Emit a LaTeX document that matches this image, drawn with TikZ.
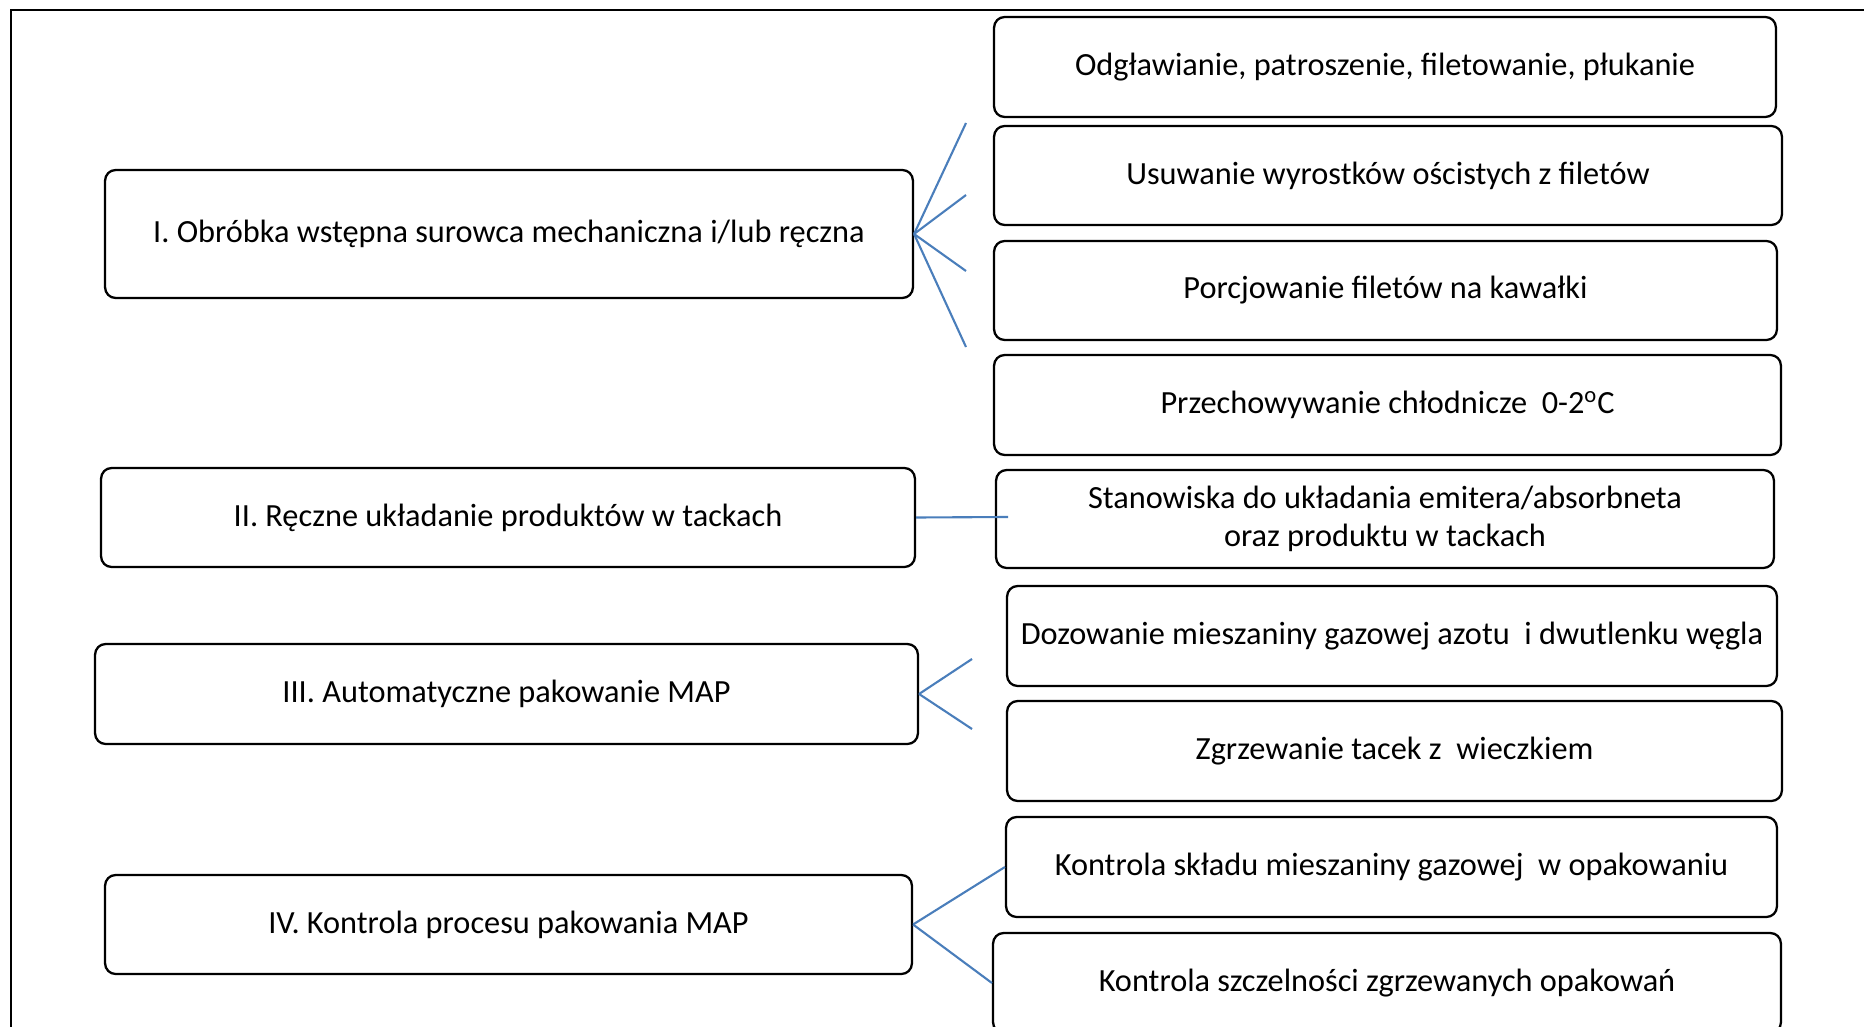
\documentclass[tikz,border=0pt]{standalone}
\usepackage{fontspec}
\setmainfont{Carlito}
\usetikzlibrary{positioning}

\definecolor{linkblue}{HTML}{4A7EBB}

\begin{document}
\begin{tikzpicture}[x=0.02cm,y=-0.02cm]
        \tikzstyle{pnode} = [line width=1.3pt, draw=black, rectangle, rounded corners = 6pt, align=center, inner sep = 2pt, font=\fontsize{18.4}{21.5}\selectfont]
        \tikzstyle{link} = [line width=1.2pt, draw=linkblue]

        \useasboundingbox (0,0) rectangle (1864,1027);
        \clip (0,0) rectangle (1864,1027);
        \draw[line width=0.8pt] (11,1040) -- (11,10) -- (1870,10);

        % etapy
        \node[pnode, minimum width=16.16cm, minimum height=2.56cm] (s1) at (509,234) {I. Obróbka wstępna surowca mechaniczna i/lub ręczna};
        \node[pnode, minimum width=16.28cm, minimum height=1.98cm] (s2) at (508,517.5) {II. Ręczne układanie produktów w tackach};
        \node[pnode, minimum width=16.46cm, minimum height=2.0cm] (s3) at (506.5,694) {III. Automatyczne pakowanie MAP};
        \node[pnode, minimum width=16.14cm, minimum height=1.98cm] (s4) at (508.5,924.5) {IV. Kontrola procesu pakowania MAP};

        % operacje
        \node[pnode, minimum width=15.64cm, minimum height=2.0cm] (o1) at (1385,67) {Odgławianie, patroszenie, filetowanie, płukanie};
        \node[pnode, minimum width=15.76cm, minimum height=1.98cm] (o2) at (1388,175.5) {Usuwanie wyrostków ościstych z filetów};
        \node[pnode, minimum width=15.66cm, minimum height=1.98cm] (o3) at (1385.5,290.5) {Porcjowanie filetów na kawałki};
        \node[pnode, minimum width=15.74cm, minimum height=2.0cm] (o4) at (1387.5,405) {Przechowywanie chłodnicze~ 0-2\textsuperscript{o}C};
        \node[pnode, minimum width=15.56cm, minimum height=1.96cm] (o5) at (1385,519) {Stanowiska do układania emitera/absorbneta\\oraz produktu w tackach};
        \node[pnode, minimum width=15.4cm, minimum height=2.0cm] (o6) at (1392,636) {Dozowanie mieszaniny gazowej azotu~ i dwutlenku węgla};
        \node[pnode, minimum width=15.5cm, minimum height=2.0cm] (o7) at (1394.5,751) {Zgrzewanie tacek z~ wieczkiem};
        \node[pnode, minimum width=15.42cm, minimum height=2.0cm] (o8) at (1391.5,867) {Kontrola składu mieszaniny gazowej~ w opakowaniu};
        \node[pnode, minimum width=15.76cm, minimum height=2.0cm] (o9) at (1387,983) {Kontrola szczelności zgrzewanych opakowań};

        \coordinate (e1) at (966,123);
        \coordinate (e2) at (966,195);
        \coordinate (e3) at (966,271);
        \coordinate (e4) at (966,347);
        \coordinate (e5) at (1008,517);
        \coordinate (e6) at (972,659);
        \coordinate (e7) at (972,729);

        \draw[link] (s1.east) -- (e1);
        \draw[link] (s1.east) -- (e2);
        \draw[link] (s1.east) -- (e3);
        \draw[link] (s1.east) -- (e4);
        \draw[link] (s2.east) -- (e5);
        \draw[link] (s3.east) -- (e6);
        \draw[link] (s3.east) -- (e7);
        \draw[link] (s4.east) -- (o8.west);
        \draw[link] (s4.east) -- (o9.west);
\end{tikzpicture}
\end{document}
